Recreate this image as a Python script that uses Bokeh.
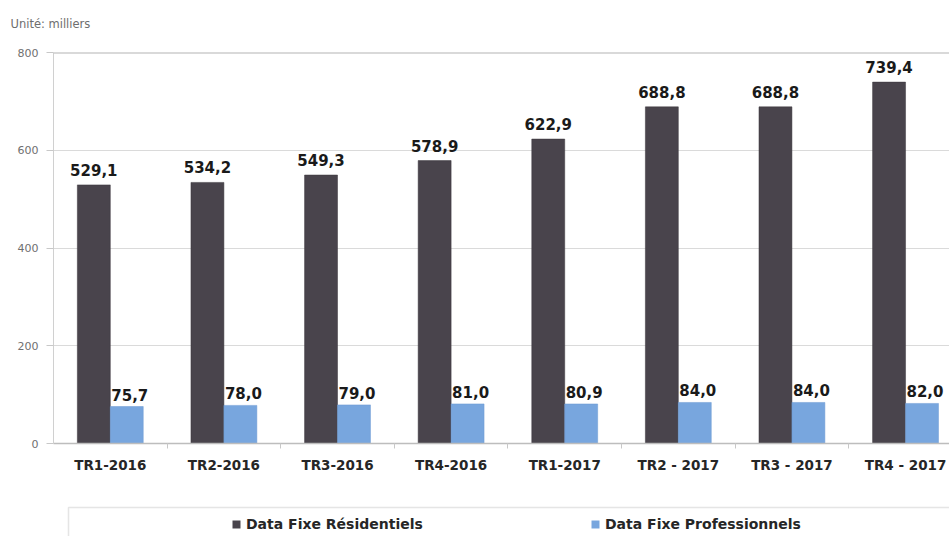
from bokeh.plotting import figure
from bokeh.models import (ColumnDataSource, Range1d, FixedTicker, LabelSet,
                          Legend, LegendItem, BoxAnnotation, Span)
from bokeh.transform import dodge
from bokeh.core.properties import value
from bokeh.layouts import column
from bokeh.embed import file_html
from bokeh.resources import INLINE

categories = ["TR1-2016", "TR2-2016", "TR3-2016", "TR4-2016",
              "TR1-2017", "TR2 - 2017", "TR3 - 2017", "TR4 - 2017"]
residentiels = [529.1, 534.2, 549.3, 578.9, 622.9, 688.8, 688.8, 739.4]
professionnels = [75.7, 78.0, 79.0, 81.0, 80.9, 84.0, 84.0, 82.0]
yticks = [0, 200, 400, 600, 800]
unit_text = "Unité: milliers"
series_names = ["Data Fixe Résidentiels", "Data Fixe Professionnels"]

def fmt(v):
    return f"{v:.1f}".replace(".", ",")

xs = list(range(len(categories)))
src = ColumnDataSource(dict(
    x=xs, res=residentiels, pro=professionnels,
    res_lbl=[fmt(v) for v in residentiels],
    pro_lbl=[fmt(v) for v in professionnels],
))

W = 949
H0 = 45
H1 = 441
H2 = 50
LEFT = 53
FONT = "DejaVu Sans"
DARK = "#49444c"
BLUE = "#78a6de"

# top strip with the unit note
p0 = figure(width=W, height=H0, output_backend="svg", toolbar_location=None,
            x_range=Range1d(0, 1), y_range=Range1d(0, 1),
            x_axis_location=None, y_axis_location=None,
            min_border_left=LEFT, min_border_right=0, min_border_top=42, min_border_bottom=0)
p0.grid.visible = False
p0.outline_line_color = None
p0.title.text = unit_text
p0.title.align = "left"
p0.title.offset = -43
p0.title.standoff = 28
p0.title.text_font = FONT
p0.title.text_font_size = "11.5px"
p0.title.text_font_style = "normal"
p0.title.text_color = "#6e6e6e"

p = figure(width=W, height=H1, output_backend="svg", toolbar_location=None,
           x_range=Range1d(-0.5, 7.387), y_range=Range1d(0, 800),
           min_border_left=LEFT, min_border_top=7, min_border_bottom=43,
           min_border_right=0)
p.outline_line_color = None

BAR_W = 0.29
OFF = 0.145

p.vbar(x=dodge("x", -OFF, range=p.x_range), top="res", width=BAR_W, source=src,
       fill_color=DARK, line_color="#3a363d", line_width=0.5)
p.vbar(x=dodge("x", OFF, range=p.x_range), top="pro", width=BAR_W, source=src,
       fill_color=BLUE, line_color="#6a98d2", line_width=0.5)

p.add_layout(LabelSet(x=dodge("x", -OFF, range=p.x_range), y="res", text="res_lbl", source=src,
                      text_align="center", text_baseline="alphabetic", y_offset=9,
                      text_font=value(FONT), text_font_size=value("15px"),
                      text_font_style=value("bold"), text_color="#1a1a1a"))
p.add_layout(LabelSet(x=dodge("x", OFF, range=p.x_range), y="pro", text="pro_lbl", source=src,
                      text_align="center", text_baseline="alphabetic", y_offset=6, x_offset=3,
                      text_font=value(FONT), text_font_size=value("15px"),
                      text_font_style=value("bold"), text_color="#1a1a1a"))

# axes
p.xaxis.ticker = FixedTicker(ticks=xs, minor_ticks=[x + 0.5 for x in xs])
p.xaxis.major_label_overrides = {i: c for i, c in enumerate(categories)}
p.xaxis.major_tick_out = 0
p.xaxis.major_tick_in = 0
p.xaxis.minor_tick_out = 5
p.xaxis.minor_tick_in = 0
p.xaxis.minor_tick_line_color = "#c8c8c8"
p.xaxis.axis_line_color = "#bdbdbd"
p.xaxis.axis_line_width = 1.5
p.xaxis.major_label_standoff = 8
p.xaxis.major_label_text_font = FONT
p.xaxis.major_label_text_font_size = "13.5px"
p.xaxis.major_label_text_font_style = "bold"
p.xaxis.major_label_text_color = "#262626"

p.yaxis.ticker = FixedTicker(ticks=yticks)
p.yaxis.minor_tick_line_color = None
p.yaxis.major_tick_out = 7
p.yaxis.major_tick_in = 0
p.yaxis.major_tick_line_color = "#c8c8c8"
p.yaxis.axis_line_color = "#d0d0d0"
p.yaxis.major_label_standoff = 8
p.yaxis.major_label_text_font = FONT
p.yaxis.major_label_text_font_size = "11px"
p.yaxis.major_label_text_color = "#707070"

p.xgrid.grid_line_color = None
p.ygrid.grid_line_color = "#dadada"
p.ygrid.grid_line_width = 1
p.add_layout(Span(location=800, dimension="width", line_color="#b3b3b3", line_width=2))

# legend strip
p2 = figure(width=W, height=H2, output_backend="svg", toolbar_location=None,
            x_range=Range1d(0, 1), y_range=Range1d(0, 1),
            x_axis_location=None, y_axis_location=None,
            min_border_left=LEFT, min_border_right=0, min_border_top=0, min_border_bottom=0)
p2.grid.visible = False
p2.outline_line_color = None
# zero-height bars: only used to draw the legend swatches
g1 = p2.vbar(x="x", top=0, bottom=0, width=0.1, source=src, fill_color=DARK, line_color=None)
g2 = p2.vbar(x="x", top=0, bottom=0, width=0.1, source=src, fill_color=BLUE, line_color=None)

p2.add_layout(BoxAnnotation(left=15, right=3000, top=29, bottom=-40,
                            left_units="screen", right_units="screen",
                            top_units="screen", bottom_units="screen",
                            fill_alpha=0, line_color="#a8a8a8", line_width=1.5))

legend = Legend(items=[LegendItem(label=series_names[0], renderers=[g1]),
                       LegendItem(label=series_names[1], renderers=[g2])],
                location=(178, 4), orientation="horizontal",
                glyph_width=10, glyph_height=10, label_standoff=5,
                label_width=190, label_height=14, spacing=154, padding=2,
                label_text_font=FONT, label_text_font_size="14px",
                label_text_font_style="bold", label_text_color="#262626",
                border_line_color=None, background_fill_alpha=0)
p2.add_layout(legend, "center")

layout = column(p0, p, p2, spacing=0)
open("out.html", "w").write(file_html(layout, INLINE))
